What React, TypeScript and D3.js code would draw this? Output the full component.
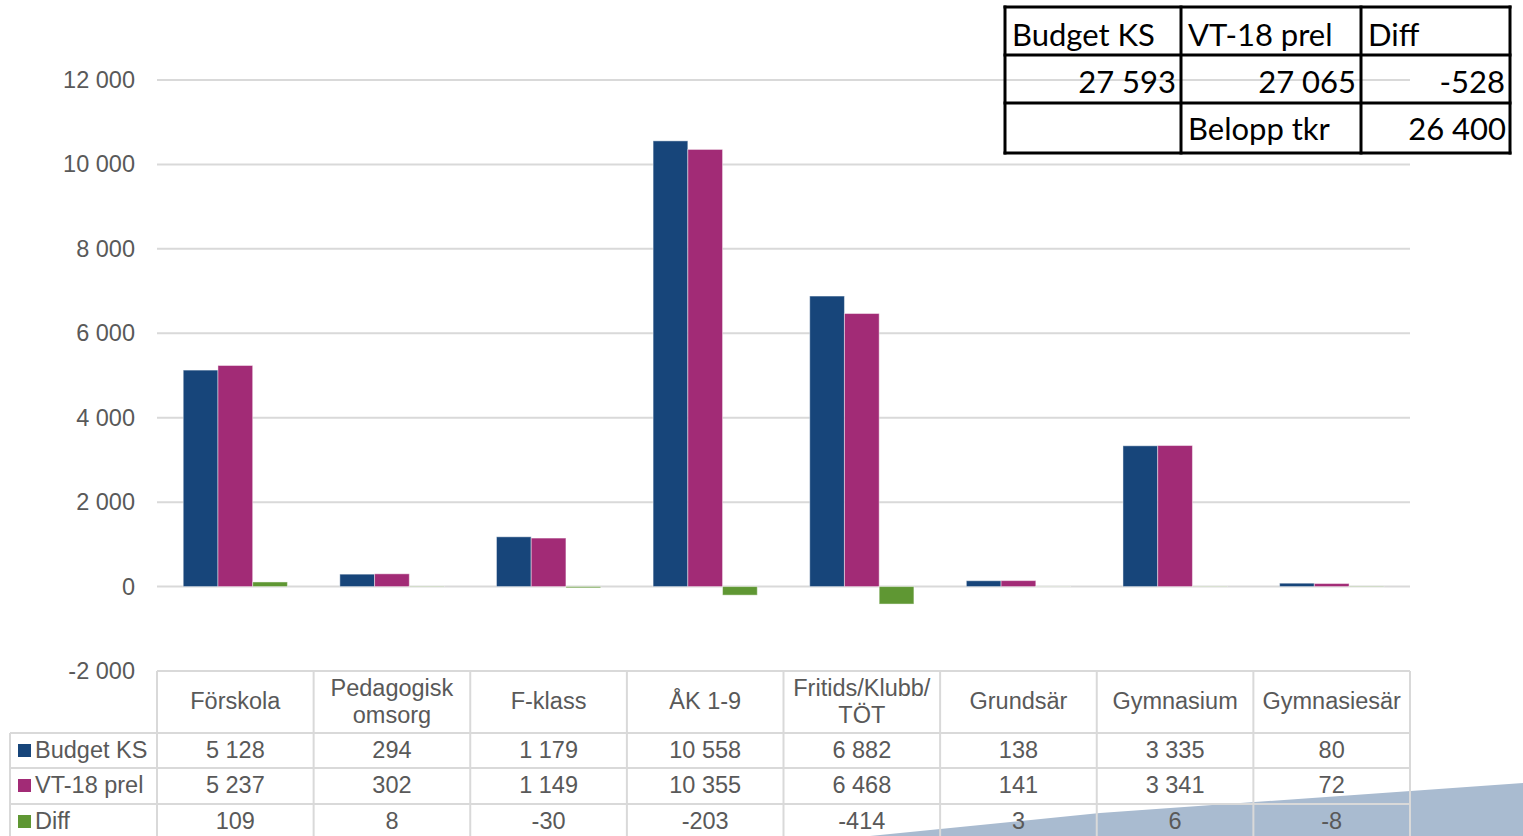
import { useEffect, useRef } from 'react'
import * as d3 from 'd3'

const categories = ['Förskola', 'Pedagogisk omsorg', 'F-klass', 'ÅK 1-9', 'Fritids/Klubb/ TÖT', 'Grundsär', 'Gymnasium', 'Gymnasiesär']
const categoryLines = [['Förskola'], ['Pedagogisk', 'omsorg'], ['F-klass'], ['ÅK 1-9'], ['Fritids/Klubb/', 'TÖT'], ['Grundsär'], ['Gymnasium'], ['Gymnasiesär']]
const seriesNames = ['Budget KS', 'VT-18 prel', 'Diff']
const seriesColors = ['#17457a', '#a22b76', '#5f9733']
const budgetKS = [5128, 294, 1179, 10558, 6882, 138, 3335, 80]
const vt18prel = [5237, 302, 1149, 10355, 6468, 141, 3341, 72]
const diff = [109, 8, -30, -203, -414, 3, 6, -8]
const yTicks = [-2000, 0, 2000, 4000, 6000, 8000, 10000, 12000]

const summaryHeader = ['Budget KS', 'VT-18 prel', 'Diff']
const summaryValues = [27593, 27065, -528]
const summaryLabel = 'Belopp tkr'
const summaryAmount = 26400

const W = 1523
const H = 836

export default function App() {
  const svgRef = useRef<SVGSVGElement>(null)

  useEffect(() => {
    if (!svgRef.current) return
    const svg = d3.select(svgRef.current)
    svg.selectAll('*').remove()

    const values = [budgetKS, vt18prel, diff]
    const locale = d3.formatLocale({ decimal: ',', thousands: ' ', grouping: [3], currency: ['', ' kr'], minus: '-' })
    const fmt = locale.format(',d')

    const left = 157
    const right = 1410
    const x = d3.scaleBand<string>().domain(categories).range([left, right]).padding(0)
    const xs = d3.scaleBand<string>().domain(seriesNames).range([0, x.bandwidth()]).paddingInner(0).paddingOuter(0.755)
    const y = d3.scaleLinear().domain([-2000, 12000]).range([671, 80])

    const font = '"Liberation Sans", Arial, sans-serif'
    const fs = 23.5
    const textColor = '#595959'
    const gridColor = '#d9d9d9'

    // decorative shape bottom right
    svg
      .append('path')
      .attr('d', 'M870,836 L1100,813 L1523,783 L1523,836 Z')
      .attr('fill', '#a9bbd0')

    // gridlines
    svg
      .append('g')
      .selectAll('line')
      .data(yTicks)
      .enter()
      .append('line')
      .attr('x1', left)
      .attr('x2', right)
      .attr('y1', (d) => y(d))
      .attr('y2', (d) => y(d))
      .attr('stroke', gridColor)
      .attr('stroke-width', 2)

    // tick labels
    svg
      .append('g')
      .selectAll('text')
      .data(yTicks)
      .enter()
      .append('text')
      .attr('x', 135)
      .attr('y', (d) => y(d) + 8)
      .attr('text-anchor', 'end')
      .attr('font-family', font)
      .attr('font-size', fs)
      .attr('fill', textColor)
      .text((d) => fmt(d))

    // bars
    seriesNames.forEach((s, si) => {
      svg
        .append('g')
        .selectAll('rect')
        .data(categories)
        .enter()
        .append('rect')
        .attr('x', (c) => (x(c) ?? 0) + (xs(s) ?? 0))
        .attr('width', xs.bandwidth())
        .attr('y', (_, i) => y(Math.max(0, values[si][i])))
        .attr('height', (_, i) => Math.abs(y(values[si][i]) - y(0)))
        .attr('fill', seriesColors[si])
        .attr('stroke', 'rgba(255,255,255,0.45)')
        .attr('stroke-width', 1)
    })

    // data table
    const rowTop = 671
    const rowLines = [733, 768, 804]
    const tbl = svg.append('g')
    tbl
      .append('line')
      .attr('x1', left).attr('x2', right)
      .attr('y1', rowTop).attr('y2', rowTop)
      .attr('stroke', gridColor).attr('stroke-width', 2)
    rowLines.forEach((ry) => {
      tbl
        .append('line')
        .attr('x1', 10).attr('x2', right)
        .attr('y1', ry).attr('y2', ry)
        .attr('stroke', gridColor).attr('stroke-width', 2)
    })
    tbl
      .append('line')
      .attr('x1', 10).attr('x2', 10)
      .attr('y1', rowLines[0]).attr('y2', H)
      .attr('stroke', gridColor).attr('stroke-width', 2)
    const bounds = categories.map((c) => x(c) ?? 0).concat([right])
    tbl
      .selectAll('line.v')
      .data(bounds)
      .enter()
      .append('line')
      .attr('class', 'v')
      .attr('x1', (d) => d).attr('x2', (d) => d)
      .attr('y1', rowTop).attr('y2', H)
      .attr('stroke', gridColor).attr('stroke-width', 2)

    // header
    categories.forEach((c, i) => {
      const cx = (x(c) ?? 0) + x.bandwidth() / 2
      const lines = categoryLines[i]
      lines.forEach((ln, li) => {
        const baseY = lines.length === 1 ? 709 : 696 + li * 27
        tbl
          .append('text')
          .attr('x', cx)
          .attr('y', baseY)
          .attr('text-anchor', 'middle')
          .attr('font-family', font)
          .attr('font-size', fs)
          .attr('fill', textColor)
          .text(ln)
      })
    })

    // rows
    const rowBase = [758, 793, 829]
    seriesNames.forEach((s, si) => {
      tbl
        .append('rect')
        .attr('x', 18)
        .attr('y', rowBase[si] - 14)
        .attr('width', 13)
        .attr('height', 13)
        .attr('fill', seriesColors[si])
      tbl
        .append('text')
        .attr('x', 35)
        .attr('y', rowBase[si])
        .attr('font-family', font)
        .attr('font-size', fs)
        .attr('fill', textColor)
        .text(s)
      categories.forEach((c, i) => {
        tbl
          .append('text')
          .attr('x', (x(c) ?? 0) + x.bandwidth() / 2)
          .attr('y', rowBase[si])
          .attr('text-anchor', 'middle')
          .attr('font-family', font)
          .attr('font-size', fs)
          .attr('fill', textColor)
          .text(fmt(values[si][i]))
      })
    })

    // summary table top right
    const sFont = 'Lato, "Open Sans", sans-serif'
    const cols = [1005, 1181, 1361, 1510]
    const rows = [7, 55, 103, 153]
    const sg = svg.append('g')
    cols.forEach((cx) => {
      sg.append('line')
        .attr('x1', cx).attr('x2', cx)
        .attr('y1', rows[0] - 1.5).attr('y2', rows[3] + 1.5)
        .attr('stroke', '#000').attr('stroke-width', 3)
    })
    rows.forEach((ry) => {
      sg.append('line')
        .attr('x1', cols[0] - 1.5).attr('x2', cols[3] + 1.5)
        .attr('y1', ry).attr('y2', ry)
        .attr('stroke', '#000').attr('stroke-width', 3)
    })
    const sText = (tx: number, ty: number, t: string, anchor: string) =>
      sg.append('text')
        .attr('x', tx).attr('y', ty)
        .attr('text-anchor', anchor)
        .attr('font-family', sFont)
        .attr('font-size', 31)
        .attr('fill', '#000')
        .text(t)
    summaryHeader.forEach((h, i) => sText(cols[i] + 7, 46, h, 'start'))
    summaryValues.forEach((v, i) => sText(cols[i + 1] - 5, 93, fmt(v), 'end'))
    sText(cols[1] + 7, 140, summaryLabel, 'start')
    sText(cols[3] - 4, 140, fmt(summaryAmount), 'end')
  }, [])

  return (
    <div style={{ position: 'fixed', left: 0, top: 0, width: W, height: H, background: '#fff' }}>
      <svg ref={svgRef} width={W} height={H} style={{ display: 'block' }} />
    </div>
  )
}
